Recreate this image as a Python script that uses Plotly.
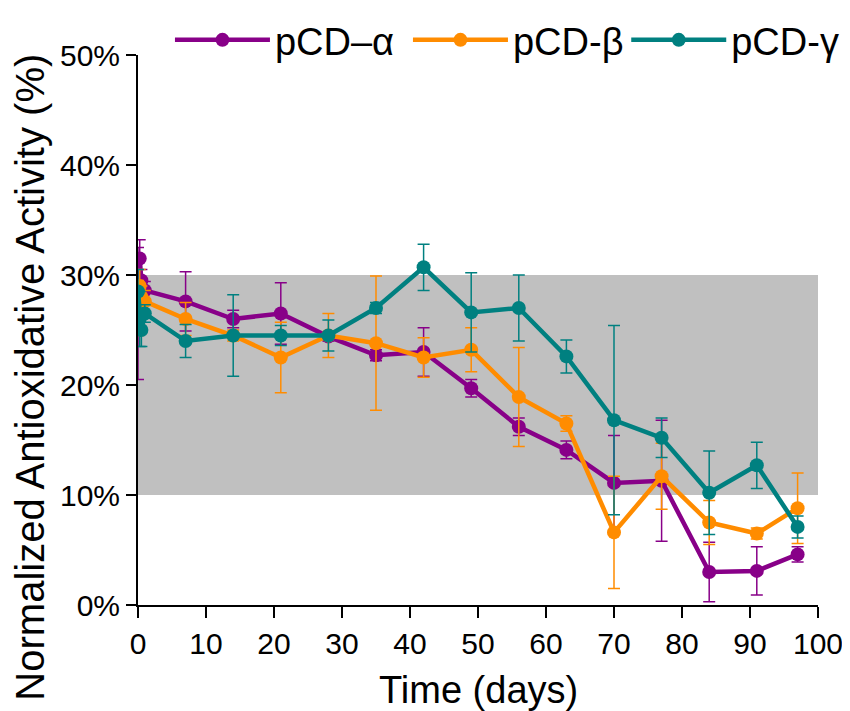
import plotly.graph_objects as go

days = [0, 0.25, 0.5, 1, 7, 14, 21, 28, 35, 42, 49, 56, 63, 70, 77, 84, 91, 97]

alpha_vals = [26.5, 31.5, 29.5, 28.6, 27.6, 26.0, 26.5, 24.4, 22.7, 23.0, 19.7, 16.2, 14.1, 11.1, 11.3, 3.0, 3.1, 4.6]
alpha_err = [6.0, 1.7, 1.0, 0.8, 2.7, 0.8, 2.8, 0.4, 0.5, 2.2, 0.8, 0.8, 0.8, 4.3, 5.5, 2.7, 2.2, 0.7]

beta_vals = [27.0, 29.0, 28.0, 27.6, 26.0, 24.5, 22.5, 24.5, 23.8, 22.5, 23.2, 18.9, 16.5, 6.6, 11.7, 7.5, 6.5, 8.8]
beta_err = [2.5, 1.5, 1.0, 1.0, 1.5, 0.5, 3.2, 2.0, 6.1, 1.8, 2.0, 4.5, 0.7, 5.1, 3.0, 2.0, 0.5, 3.2]

gamma_vals = [28.5, 26.0, 25.0, 26.5, 24.0, 24.5, 24.5, 24.5, 27.0, 30.7, 26.6, 27.0, 22.6, 16.8, 15.2, 10.2, 12.7, 7.1]
gamma_err = [2.0, 2.5, 1.5, 0.8, 1.5, 3.7, 0.9, 1.4, 0.5, 2.1, 3.6, 3.0, 1.5, 8.6, 1.8, 3.8, 2.1, 1.0]

series_names = ["pCD\u2013\u03b1", "pCD-\u03b2", "pCD-\u03b3"]
series_colors = ["#880088", "#FF8C00", "#008080"]
band_range = [10, 30]

y_tickvals = [0, 10, 20, 30, 40, 50]
y_ticktext = ["0%", "10%", "20%", "30%", "40%", "50%"]
x_tickvals = [0, 10, 20, 30, 40, 50, 60, 70, 80, 90, 100]

fig = go.Figure()

fig.add_shape(type="rect", xref="x", yref="y", x0=0, x1=100.6,
              y0=band_range[0], y1=band_range[1],
              fillcolor="#C0C0C0", line=dict(width=0), layer="below")

legend_ids = ["legend", "legend2", "legend3"]
legend_x = [0.047, 0.397, 0.718]

for name, color, vals, err, lid in zip(series_names, series_colors,
                                       [alpha_vals, beta_vals, gamma_vals],
                                       [alpha_err, beta_err, gamma_err], legend_ids):
    fig.add_trace(go.Scatter(
        x=days, y=vals, name=name, mode="lines+markers",
        line=dict(color=color, width=4.5),
        marker=dict(color=color, size=14),
        error_y=dict(type="data", array=err, visible=True,
                     color=color, thickness=1.5, width=6),
        legend=lid,
    ))

legend_common = dict(orientation="h", xanchor="left", y=1.027, yanchor="middle",
                     font=dict(size=38), bgcolor="rgba(0,0,0,0)", itemwidth=95)

layout_legends = {lid: dict(legend_common, x=lx) for lid, lx in zip(legend_ids, legend_x)}

fig.update_layout(
    width=842, height=703,
    margin=dict(l=130, r=32, t=47, b=106, autoexpand=False),
    paper_bgcolor="white", plot_bgcolor="white",
    font=dict(family="Liberation Sans, Arial, sans-serif", color="black"),
    showlegend=True,
    **layout_legends,
)

fig.add_annotation(text="Normalized Antioxidative Activity (%)", textangle=-90,
                   xref="paper", yref="paper", x=-0.159, y=0.415,
                   xanchor="center", yanchor="middle", showarrow=False,
                   font=dict(size=40))
fig.add_annotation(text="Time (days)", xref="paper", yref="paper", x=0.5, y=-0.1545,
                   xanchor="center", yanchor="middle", showarrow=False,
                   font=dict(size=38))

fig.update_xaxes(range=[0, 100], tickvals=x_tickvals, ticks="outside", ticklen=11,
                 tickwidth=1.5, tickcolor="black", showline=True, linecolor="black",
                 linewidth=2, showgrid=False, zeroline=False,
                 ticklabeloverflow="allow",
                 tickfont=dict(size=30))
fig.update_yaxes(range=[0, 50], tickvals=y_tickvals, ticktext=y_ticktext, ticks="outside",
                 ticklen=10, tickwidth=1.5, tickcolor="black", showline=True,
                 linecolor="black", linewidth=2, showgrid=False, zeroline=False,
                 tickfont=dict(size=30))

fig.write_html("out.html")
